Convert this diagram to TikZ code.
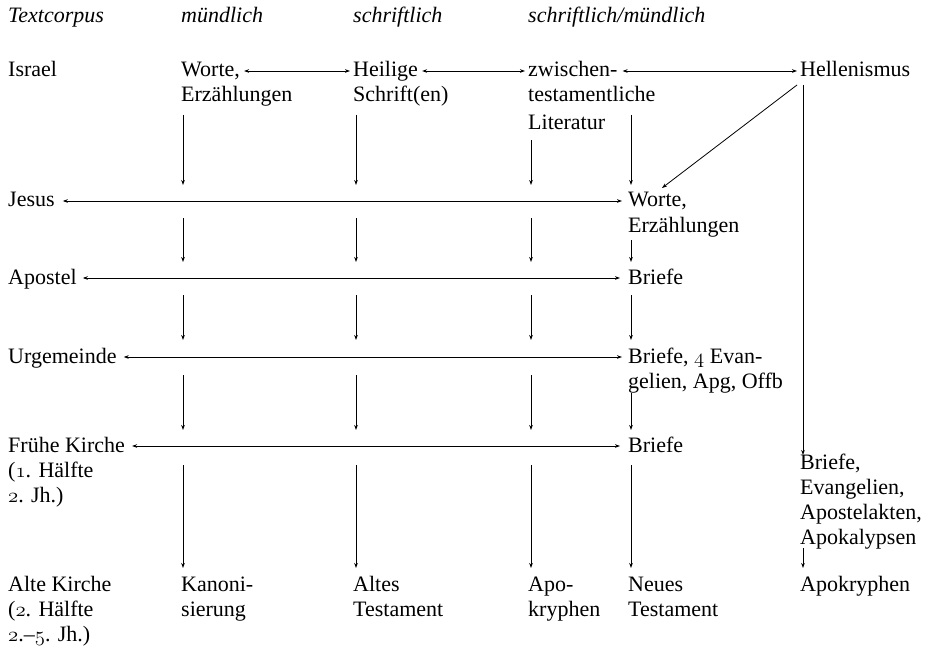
\documentclass[tikz,border=0pt]{standalone}
\usepackage{fontspec}
\setmainfont{Liberation Serif}
\usetikzlibrary{arrows.meta,calc}
\newcommand\mlines[1]{\begin{tabular}[t]{@{}l@{}}#1\end{tabular}}
\newcommand\osn[1]{{\usefont{OML}{cmm}{m}{it}#1}}
\tikzset{
  lbl/.style={anchor=base west, inner sep=0pt, font=\fontsize{22}{25}\selectfont},
  hdr/.style={lbl, font=\fontsize{22}{25}\selectfont\itshape},
  arr/.style={-{Stealth[length=5pt,width=3.6pt]}, line width=0.8pt},
  darr/.style={{Stealth[length=5pt,width=3.6pt]}-{Stealth[length=5pt,width=3.6pt]}, line width=0.8pt}
}
\begin{document}
\begin{tikzpicture}[x=1pt,y=-1pt]
\useasboundingbox (0,0) rectangle (932,650);
% headers
\node[hdr] (h0) at (8,23) {Textcorpus};
\node[hdr] (h1) at (181,23) {mündlich};
\node[hdr] (h2) at (353,23) {schriftlich};
\node[hdr] (h3) at (528,23) {schriftlich/mündlich};
% Israel
\node[lbl] (isr) at (8,77) {Israel};
\node[lbl] (wo1) at (181,77) {Worte,};
\node[lbl] (wo1b) at (181,102) {Erzählungen};
\node[lbl] (hs) at (353,77) {Heilige};
\node[lbl] (hsb) at (353,102) {Schrift(en)};
\node[lbl] (zw) at (528,77) {zwischen-};
\node[lbl] (zwb) at (528,102) {testamentliche};
\node[lbl] (lit) at (528,130) {Literatur};
\node[lbl] (hel) at (800,77) {Hellenismus};
% Jesus
\node[lbl] (jes) at (8,207) {Jesus};
\node[lbl] (wo2) at (628,207) {\mlines{Worte,\\Erzählungen}};
% Apostel
\node[lbl] (apo) at (8,284) {Apostel};
\node[lbl] (br1) at (628,284) {Briefe};
% Urgemeinde
\node[lbl] (urg) at (8,363) {Urgemeinde};
\node[lbl] (br2) at (628,363) {\mlines{Briefe, \osn{4} Evan-\\gelien, Apg, Offb}};
% Fruehe Kirche
\node[lbl] (fk) at (8,452) {Frühe Kirche};
\node[lbl] (fkb) at (8,477) {\mlines{(\osn{1}. Hälfte\\\osn{2}. Jh.)}};
\node[lbl] (br3) at (628,452) {Briefe};
\node[lbl] (br4) at (800,469) {\mlines{Briefe,\\Evangelien,\\Apostelakten,\\Apokalypsen}};
% Alte Kirche
\node[lbl] (ak) at (8,591) {\mlines{Alte Kirche\\(\osn{2}. Hälfte\\\osn{2}.–\osn{5}. Jh.)}};
\node[lbl] (kan) at (181,591) {\mlines{Kanoni-\\sierung}};
\node[lbl] (at) at (353,591) {\mlines{Altes\\Testament}};
\node[lbl] (apk) at (528,591) {\mlines{Apo-\\kryphen}};
\node[lbl] (nt) at (628,591) {\mlines{Neues\\Testament}};
\node[lbl] (apk2) at (800,591) {Apokryphen};

% horizontal arrows
\draw[darr] ($(wo1.base east)+(4,-6)$) -- ($(hs.base west)+(-3,-6)$);
\draw[darr] ($(hs.base east)+(4,-6)$) -- ($(zw.base west)+(-3,-6)$);
\draw[darr] ($(zw.base east)+(5,-6)$) -- ($(hel.base west)+(-3,-6)$);
\draw[darr] ($(jes.base east)+(8,-6)$) -- ($(wo2.base west)+(-6,-6)$);
\draw[darr] ($(apo.base east)+(6,-6)$) -- ($(br1.base west)+(-8,-6)$);
\draw[darr] ($(urg.base east)+(7,-6)$) -- ($(br2.base west)+(-6,-6)$);
\draw[darr] ($(fk.base east)+(7,-6)$) -- ($(br3.base west)+(-8,-6)$);

% vertical arrows, columns 1-3
\foreach \x in {183,356} {
  \draw[arr] (\x,115) -- (\x,185);
}
\draw[arr] (531,140) -- (531,185);
\foreach \x in {183,356,531} {
  \draw[arr] (\x,218) -- (\x,262);
  \draw[arr] (\x,295) -- (\x,340);
  \draw[arr] (\x,375) -- (\x,430);
  \draw[arr] (\x,465) -- (\x,568);
}
% column 4
\draw[arr] (631,115) -- (631,185);
\draw[arr] (631,240) -- (631,262);
\draw[arr] (631,295) -- (631,340);
\draw[arr] (631,393) -- (631,430);
\draw[arr] (631,465) -- (631,568);
% Hellenismus column
\draw[arr] (803,85) -- (803,455);
\draw[arr] (803,548) -- (803,568);
\draw[arr] (797,85) -- (662,188);
\end{tikzpicture}
\end{document}
